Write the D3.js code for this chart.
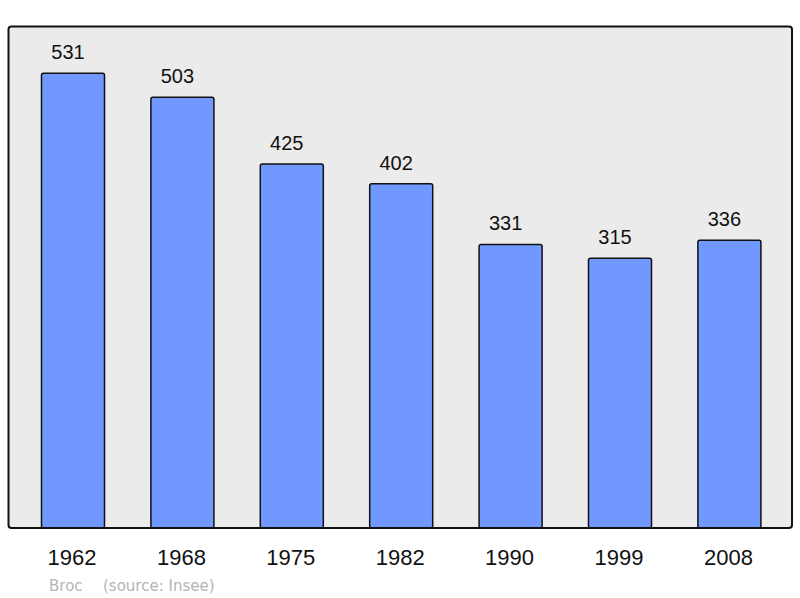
<!DOCTYPE html>
<html lang="fr">
<head>
    <meta charset="UTF-8">
    <title>Broc - population</title>
    <script src="https://d3js.org/d3.v7.min.js"></script>
    <style>
        body { margin: 0; background: #fff; }
        text { font-family: "Liberation Sans", Arial, sans-serif; }
    </style>
</head>
<body>
<div id="chart"></div>
<script>
    // census years and population
    const years = ["1962", "1968", "1975", "1982", "1990", "1999", "2008"];
    const population = [531, 503, 425, 402, 331, 315, 336];
    const commune = "Broc";
    const source = "(source: Insee)";

    const W = 800, H = 598;
    const svg = d3.select("#chart").append("svg")
        .attr("width", W)
        .attr("height", H);

    // plot frame
    const box = {left: 8.5, top: 26.5, right: 792, bottom: 528};

    svg.append("rect")
        .attr("x", box.left)
        .attr("y", box.top)
        .attr("width", box.right - box.left)
        .attr("height", box.bottom - box.top)
        .attr("rx", 3)
        .style("fill", "#ebebeb");

    const x = d3.scaleBand()
        .domain(years)
        .range([18.3, 784.1])
        .paddingInner(0.424)
        .paddingOuter(0.212);

    const y = d3.scaleLinear()
        .domain([0, 585])
        .range([box.bottom, box.bottom - 585 * 0.8565]);

    const data = years.map((yr, i) => ({year: yr, value: population[i]}));

    svg.selectAll(".bar")
        .data(data)
        .enter().append("rect")
        .attr("class", "bar")
        .attr("x", d => x(d.year))
        .attr("y", d => y(d.value))
        .attr("width", x.bandwidth())
        .attr("height", d => y(0) - y(d.value))
        .attr("rx", 2)
        .style("fill", "#7098ff")
        .style("stroke", "#111")
        .style("stroke-width", 1.5);

    // value labels (sit a little left of the bar centre in the original)
    svg.selectAll(".val")
        .data(data)
        .enter().append("text")
        .attr("class", "val")
        .attr("x", d => x(d.year) + x.bandwidth() / 2 - 5)
        .attr("y", d => y(d.value) - 14)
        .attr("text-anchor", "middle")
        .style("font-size", "20px")
        .style("fill", "#111")
        .text(d => d.value);

    // frame outline on top of bars
    svg.append("rect")
        .attr("x", box.left)
        .attr("y", box.top)
        .attr("width", box.right - box.left)
        .attr("height", box.bottom - box.top)
        .attr("rx", 3)
        .style("fill", "none")
        .style("stroke", "#111")
        .style("stroke-width", 2);

    // year labels
    svg.selectAll(".yr")
        .data(years)
        .enter().append("text")
        .attr("class", "yr")
        .attr("x", d => x(d) + x.bandwidth() / 2 - 1)
        .attr("y", 565)
        .attr("text-anchor", "middle")
        .style("font-size", "22px")
        .style("fill", "#111")
        .text(d => d);

    // footer
    svg.append("text")
        .attr("x", 49)
        .attr("y", 591)
        .style("font-family", "'DejaVu Sans', sans-serif")
        .style("font-size", "15px")
        .style("fill", "#b4b4b4")
        .text(commune);

    svg.append("text")
        .attr("x", 103)
        .attr("y", 591)
        .style("font-family", "'DejaVu Sans', sans-serif")
        .style("font-size", "15px")
        .style("fill", "#b4b4b4")
        .text(source);
</script>
</body>
</html>
